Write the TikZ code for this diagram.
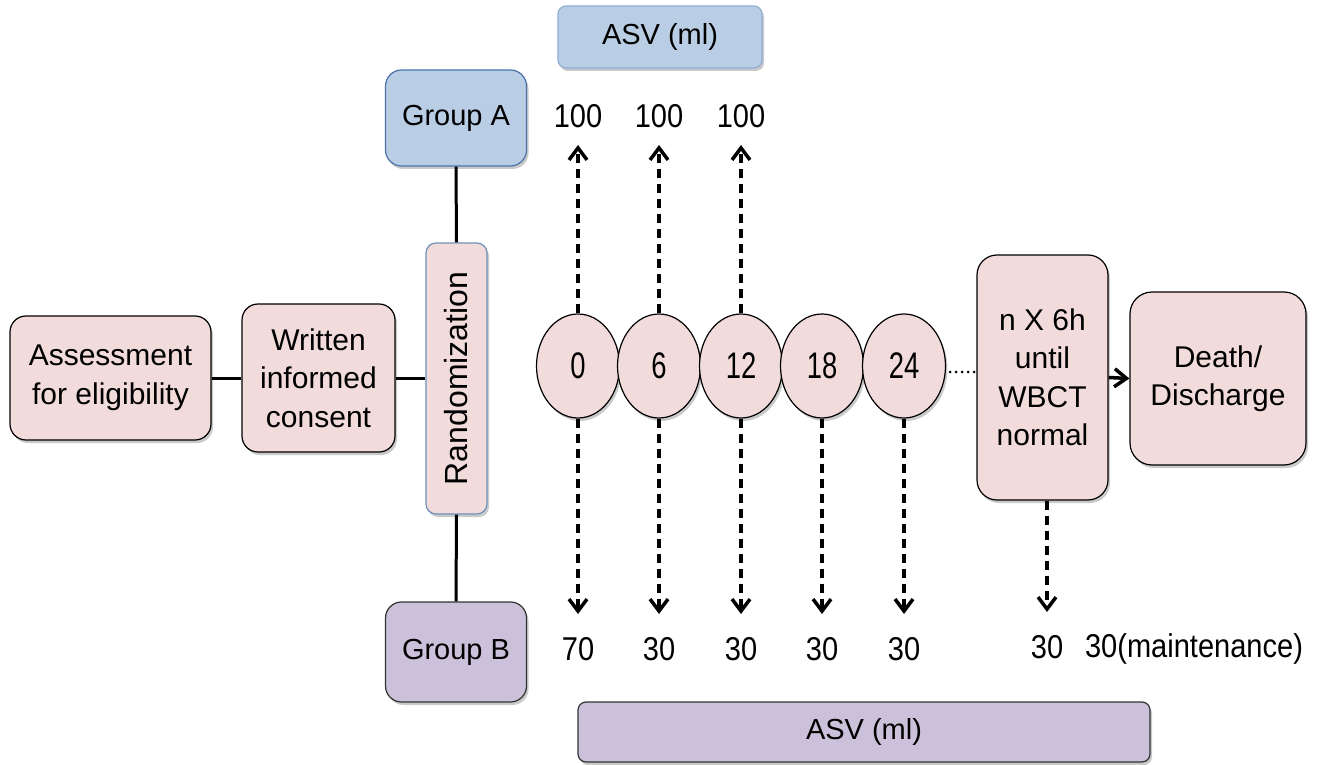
\documentclass[tikz,border=0pt]{standalone}
\usepackage{fontspec}
\setmainfont{Liberation Sans}
\newfontfamily\numfont[FakeStretch=0.88]{Liberation Sans}
\newfontfamily\circfont[FakeStretch=0.74]{Liberation Sans}
\usetikzlibrary{shapes.geometric,arrows.meta,shadows}
\definecolor{pinkf}{HTML}{F2DCDB}
\definecolor{bluef}{HTML}{B9CDE5}
\definecolor{purf}{HTML}{CCC1DA}
\definecolor{blueb}{HTML}{4A74A8}
\definecolor{bluel}{HTML}{8FAED6}
\begin{document}
\begin{tikzpicture}[x=1pt,y=-1pt,
  shad/.style={drop shadow={shadow xshift=2pt,shadow yshift=-3pt,opacity=0.35,fill=black!60}},
  box/.style={draw=black,line width=1.2pt,rounded corners=16pt,fill=pinkf,shad,align=center,inner sep=0pt,
    font=\fontsize{30}{38.5}\selectfont},
  circ/.style={ellipse,draw=black,line width=1.2pt,fill=pinkf,shad,minimum width=83pt,minimum height=104pt,inner sep=0pt,
    font=\circfont\fontsize{37}{40}\selectfont},
  lbl/.style={font=\fontsize{29}{34}\selectfont,inner sep=0pt},
  num/.style={font=\numfont\fontsize{33}{36}\selectfont,inner sep=0pt},
  conn/.style={line width=3pt},
  dsh/.style={line width=3.5pt,dash pattern=on 9pt off 6pt,-{Straight Barb[length=12pt,width=18pt,line width=3.5pt]}},
  solidarr/.style={line width=3.5pt,-{Straight Barb[length=12pt,width=18pt,line width=3.5pt]}}
  ]
\useasboundingbox (0,0) rectangle (1326,765);
% top ASV
\node[draw=bluel,line width=1.2pt,fill=bluef,rounded corners=8pt,shad,minimum width=204pt,minimum height=62pt,lbl] (asvA) at (660,37) {ASV (ml)};
% group boxes
\node[draw=blueb,line width=1.2pt,fill=bluef,rounded corners=16pt,shad,minimum width=141pt,minimum height=96pt,lbl] (ga) at (456,118) {Group A};
\node[draw=black!80,line width=1.2pt,fill=purf,rounded corners=16pt,shad,minimum width=141pt,minimum height=100pt,lbl] (gb) at (456,652) {Group B};
% randomization
\node[draw=blueb!80,line width=1.2pt,fill=pinkf,rounded corners=10pt,shad,minimum width=271pt,minimum height=61pt,rotate=90,
  font=\fontsize{32}{36}\selectfont,inner sep=0pt] (rand) at (456.5,378.5) {Randomization};
% left boxes
\node[box,minimum width=201pt,minimum height=124pt] (assess) at (110.5,378) {Assessment\\for eligibility};
\node[box,minimum width=153pt,minimum height=148pt] (written) at (318.5,378) {Written\\informed\\consent};
% circles
\node[circ] (c0) at (578,366) {0};
\node[circ] (c6) at (659,366) {6};
\node[circ] (c12) at (741,366) {12};
\node[circ] (c18) at (822,366) {18};
\node[circ] (c24) at (904,366) {24};
% n x 6h
\node[box,rounded corners=20pt,minimum width=131pt,minimum height=245pt] (nx) at (1042.5,377.5) {n X 6h\\until\\WBCT\\normal};
\node[box,rounded corners=22pt,minimum width=176pt,minimum height=173pt] (death) at (1218,378.5) {Death/\\Discharge};
% bottom ASV
\node[draw=black!80,line width=1.2pt,fill=purf,rounded corners=8pt,shad,minimum width=572pt,minimum height=60pt,lbl] (asvB) at (864,732) {ASV (ml)};
% connectors
\draw[conn] (ga.south) -- (rand.east);
\draw[conn] (rand.west) -- (gb.north);
\draw[conn] (assess.east) -- (written.west);
\draw[conn] (written.east) -- (rand.north |- written.east);
\draw[line width=3pt,line cap=round,dash pattern=on 0pt off 6pt] ([xshift=4pt]c24.east |- 0,372) -- ([xshift=-2pt]nx.west |- 0,372);
\draw[solidarr] (nx.east) -- (death.west);
% up arrows
\coordinate (u0) at (578,145);
\coordinate (u6) at (659,145);
\coordinate (u12) at (741,145);
\draw[dsh] (c0.north) -- (u0);
\draw[dsh] (c6.north) -- (u6);
\draw[dsh] (c12.north) -- (u12);
\node[num] (t0) at (578,116) {100};
\node[num] (t6) at (659,116) {100};
\node[num] (t12) at (741,116) {100};
% down arrows
\coordinate (d0) at (578,614);
\coordinate (d6) at (659,614);
\coordinate (d12) at (741,614);
\coordinate (d18) at (822,614);
\coordinate (d24) at (904,614);
\coordinate (dn) at (1047,612);
\draw[dsh] (c0.south) -- (d0);
\draw[dsh] (c6.south) -- (d6);
\draw[dsh] (c12.south) -- (d12);
\draw[dsh] (c18.south) -- (d18);
\draw[dsh] (c24.south) -- (d24);
\draw[dsh] (nx.south -| dn) -- (dn);
\node[num] (b0) at (578,649) {70};
\node[num] (b6) at (659,649) {30};
\node[num] (b12) at (741,649) {30};
\node[num] (b18) at (822,649) {30};
\node[num] (b24) at (904,649) {30};
\node[num] (bn) at (1047,647) {30};
\node[num] (bm) at (1194,649) {30(maintenance)};
\end{tikzpicture}
\end{document}
